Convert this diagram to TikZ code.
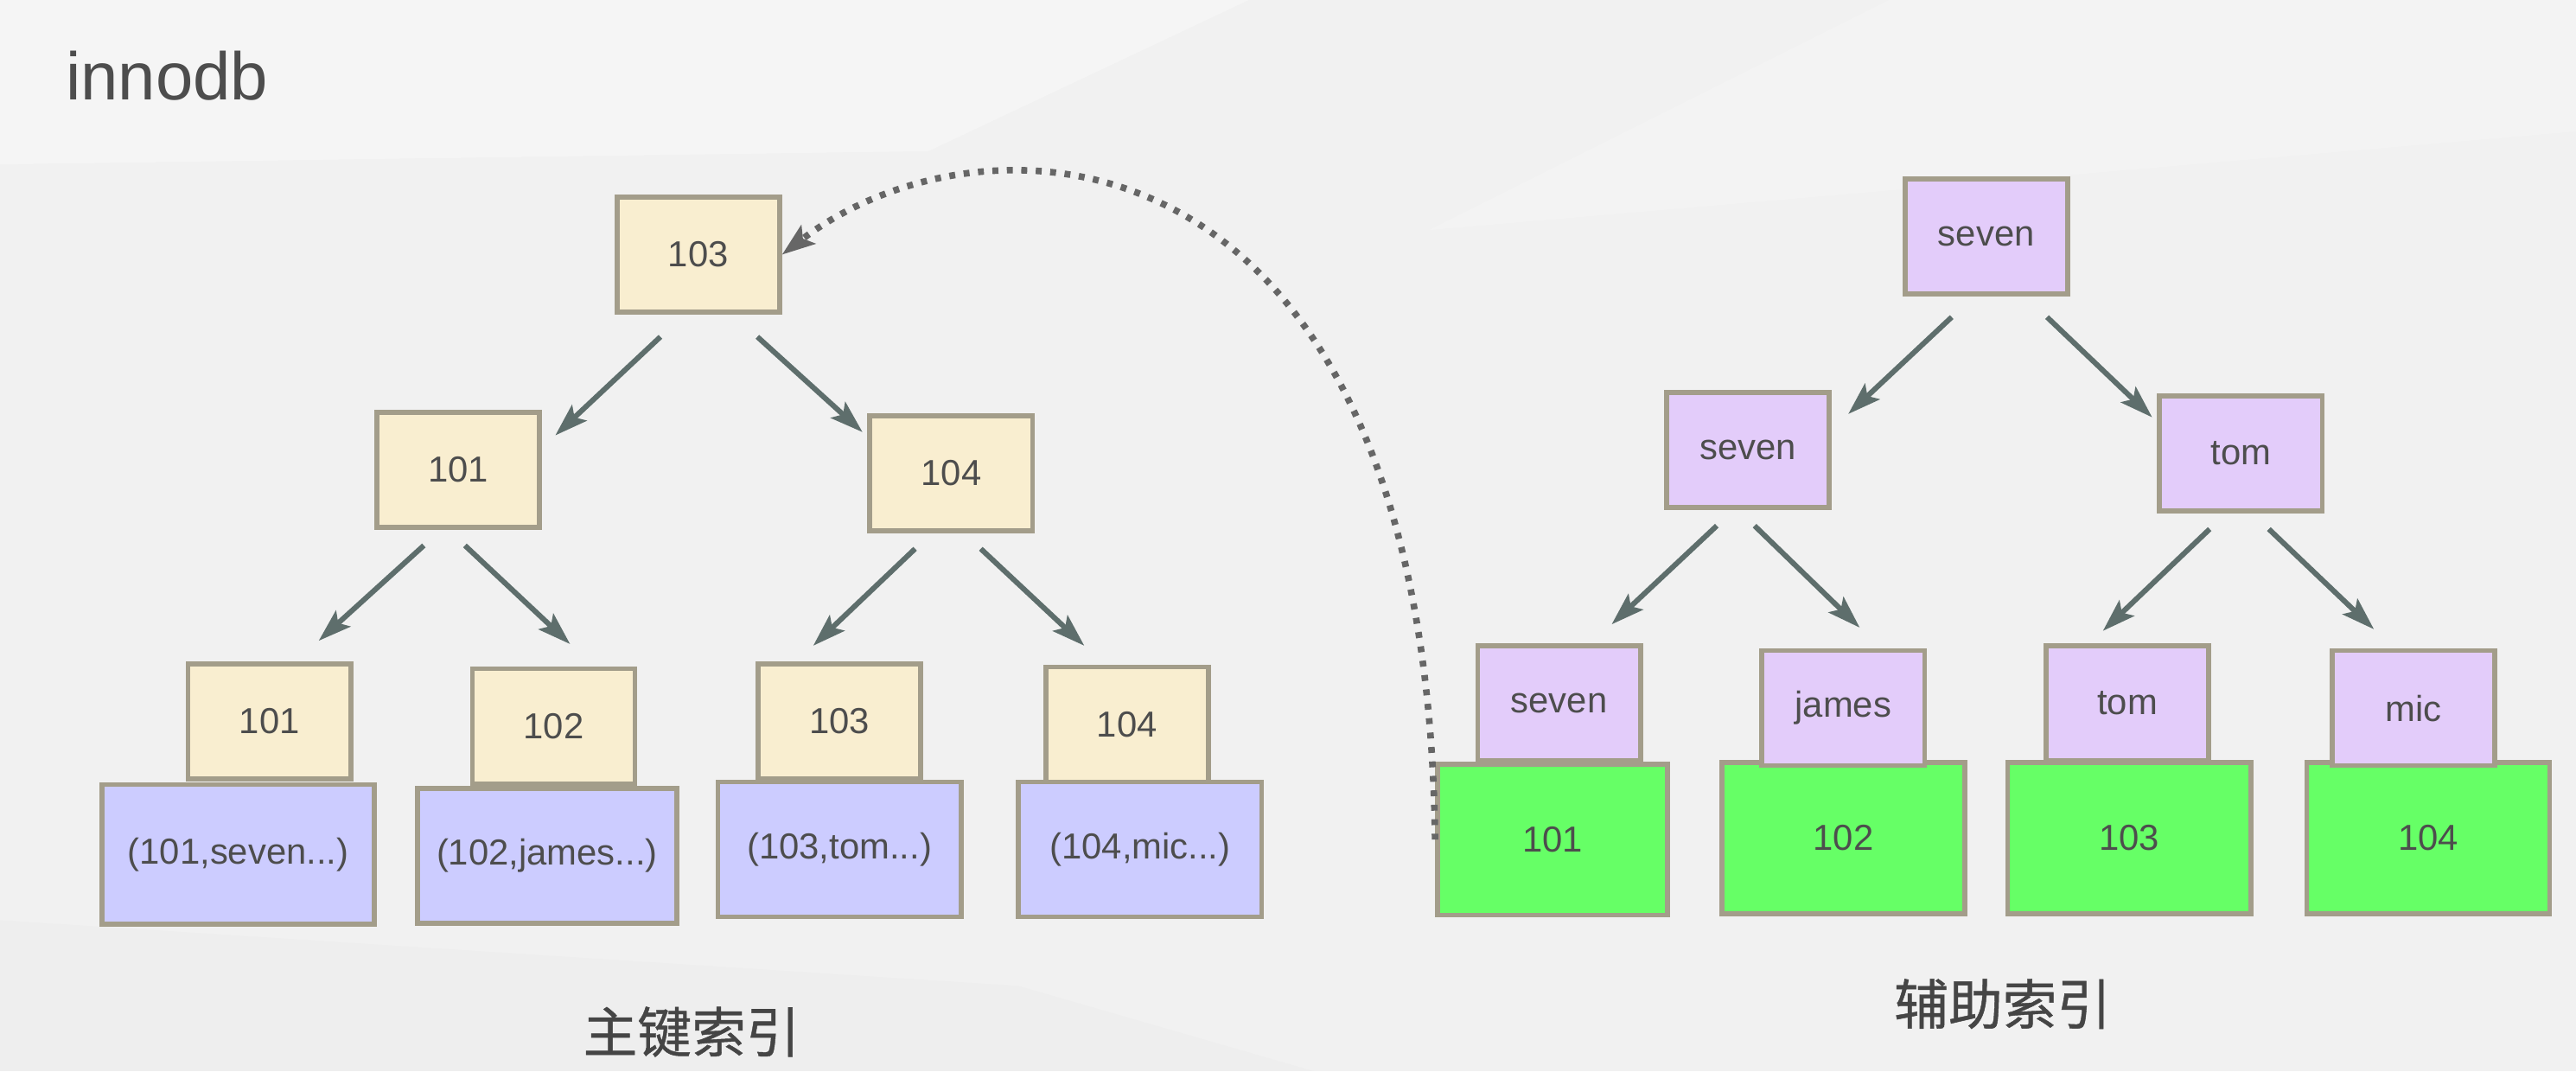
\documentclass[tikz,border=0pt]{standalone}
\usepackage{fontspec}
\setmainfont{Liberation Sans}
\newfontfamily\cjk{Noto Sans CJK SC}[FakeBold=0.7]
\usepackage{tikz}
\usetikzlibrary{arrows.meta}
\usetikzlibrary{positioning}

\definecolor{bgcol}{HTML}{F1F1F1}
\definecolor{keyfill}{HTML}{F9EED0}
\definecolor{datfill}{HTML}{CCCCFF}
\definecolor{lavfill}{HTML}{E3CCFA}
\definecolor{grnfill}{HTML}{66FF66}
\definecolor{boxline}{HTML}{A39D8A}
\definecolor{arrcol}{HTML}{5E6E6C}
\definecolor{dotcol}{HTML}{666666}
\definecolor{txtcol}{HTML}{4D4D4D}

\begin{document}
\begin{tikzpicture}[x=0.5pt, y=-0.5pt,
 box/.style={draw=boxline, line width=1.5pt, text=txtcol, font=\fontsize{11}{13}\selectfont, inner sep=2pt},
 keybox/.style={box, fill=keyfill, minimum width=49.5pt, minimum height=35pt},
 namebox/.style={box, fill=lavfill, minimum width=49.5pt, minimum height=35pt},
 datbox/.style={box, fill=datfill, minimum width=74pt, minimum height=41pt},
 grnbox/.style={box, fill=grnfill, minimum width=74pt, minimum height=46pt},
 arr/.style={draw=arrcol, line width=1.6pt, -{Stealth[length=10pt, width=6.5pt, inset=2pt]}},
 dotarr/.style={draw=dotcol, line width=2pt, dash pattern=on 1.8pt off 2.6pt, -{Stealth[length=10pt, width=7pt, inset=2pt, sep=0pt]}},
 title/.style={text=txtcol, font=\fontsize{20.5}{24}\selectfont},
 caption/.style={text=txtcol!90!black, font=\cjk\fontsize{16.5}{19}\selectfont}
]

\useasboundingbox (0,0) rectangle (1568,652);
\fill[bgcol] (0,0) rectangle (1568,652);
\fill[white, opacity=0.35] (0,0) -- (760,0) -- (565,92) -- (0,100) -- cycle;
\fill[white, opacity=0.2] (870,140) -- (1150,0) -- (1568,0) -- (1568,80) -- cycle;
\fill[black, opacity=0.012] (0,560) -- (620,600) -- (800,652) -- (0,652) -- cycle;

\node[title, anchor=base west] (db) at (33,61) {innodb};

\node[keybox] (r103) at (425,155) {103};
\node[keybox] (a101) at (279,286) {101};
\node[keybox] (a104) at (579,288) {104};

\node[datbox, minimum width=83pt, minimum height=42.5pt] (d101) at (145,520) {(101,seven...)};
\node[datbox, minimum width=79pt] (d102) at (333,521) {(102,james...)};
\node[datbox] (d103) at (511,517) {(103,tom...)};
\node[datbox] (d104) at (694,517) {(104,mic...)};

\node[keybox] (k101) at (164,439) {101};
\node[keybox] (k102) at (337,442) {102};
\node[keybox] (k103) at (511,439) {103};
\node[keybox] (k104) at (686,441) {104};

\node[namebox] (sr) at (1209,144) {seven};
\node[namebox] (s2) at (1064,274) {seven};
\node[namebox] (t2) at (1364,276) {tom};

\node[grnbox, minimum width=70pt] (g101) at (945,511) {101};
\node[grnbox] (g102) at (1122,510) {102};
\node[grnbox] (g103) at (1296,510) {103};
\node[grnbox] (g104) at (1478,510) {104};

\node[namebox] (ls) at (949,428) {seven};
\node[namebox] (lj) at (1122,431) {james};
\node[namebox] (lt) at (1295,428) {tom};
\node[namebox] (lm) at (1469,431) {mic};

\node[caption] (pk) at (421,628) {主键索引};
\node[caption] (sk) at (1219,611) {辅助索引};

\draw[arr] ([shift={(-23,50)}]r103.center) -- ([shift={(59,-21)}]a101.center);
\draw[arr] ([shift={(36,50)}]r103.center) -- ([shift={(-54,-25)}]a104.center);
\draw[arr] ([shift={(-21,46)}]a101.center) -- ([shift={(30,-49)}]k101.center);
\draw[arr] ([shift={(4,46)}]a101.center) -- ([shift={(10,-50)}]k102.center);
\draw[arr] ([shift={(-22,46)}]a104.center) -- ([shift={(-16,-46)}]k103.center);
\draw[arr] ([shift={(18,46)}]a104.center) -- ([shift={(-26,-48)}]k104.center);

\draw[arr] ([shift={(-21,49)}]sr.center) -- ([shift={(61,-22)}]s2.center);
\draw[arr] ([shift={(37,49)}]sr.center) -- ([shift={(-54,-22)}]t2.center);
\draw[arr] ([shift={(-19,46)}]s2.center) -- ([shift={(32,-48)}]ls.center);
\draw[arr] ([shift={(4,46)}]s2.center) -- ([shift={(10,-49)}]lj.center);
\draw[arr] ([shift={(-19,46)}]t2.center) -- ([shift={(-15,-44)}]lt.center);
\draw[arr] ([shift={(17,46)}]t2.center) -- ([shift={(-24,-48)}]lm.center);

\draw[dotarr] (g101.west) .. controls (868,70) and (600,60) .. (r103.east);

\end{tikzpicture}
\end{document}
